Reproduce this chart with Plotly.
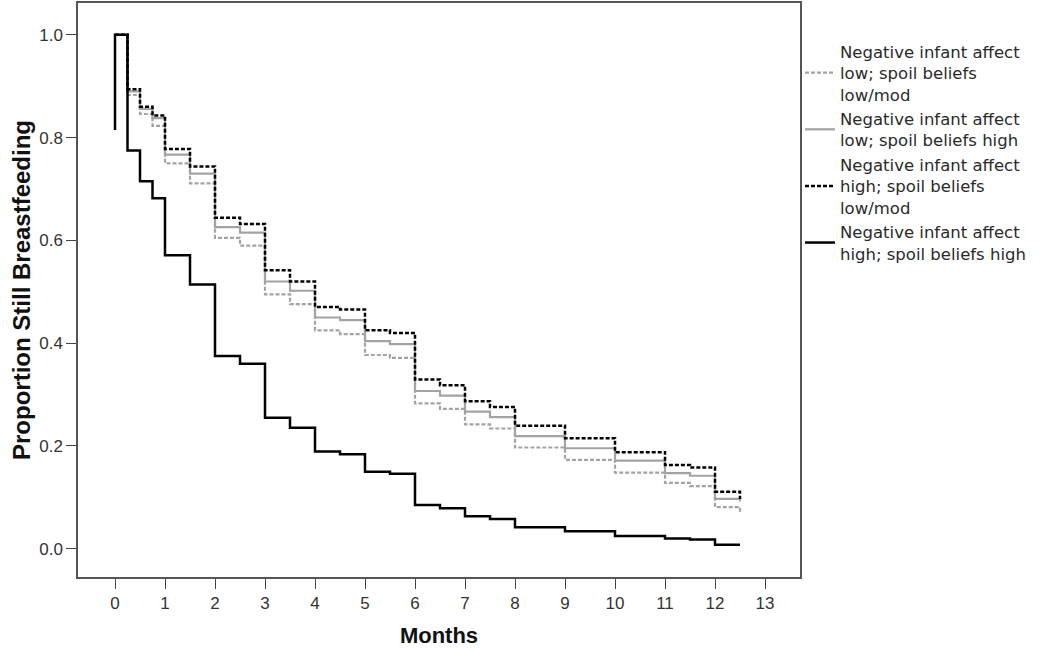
import plotly.graph_objects as go

# Time points (months) at which each step begins
months = [0, 0.25, 0.5, 0.75, 1, 1.5, 2, 2.5, 3, 3.5, 4, 4.5, 5, 5.5, 6, 6.5, 7, 7.5, 8, 9, 10, 11, 11.5, 12, 12.5]
months_hh = [0] + months

low_lowmod = [1.0, 0.883, 0.846, 0.823, 0.750, 0.711, 0.605, 0.590, 0.495, 0.476, 0.425, 0.4175, 0.377, 0.3715,
              0.283, 0.272, 0.242, 0.234, 0.197, 0.173, 0.148, 0.128, 0.122, 0.081, 0.071]
low_high = [1.0, 0.890, 0.856, 0.838, 0.767, 0.730, 0.626, 0.615, 0.520, 0.502, 0.450, 0.445, 0.404, 0.398,
            0.307, 0.298, 0.267, 0.256, 0.219, 0.1955, 0.1715, 0.147, 0.142, 0.097, 0.092]
high_lowmod = [1.0, 0.894, 0.860, 0.843, 0.778, 0.744, 0.644, 0.632, 0.542, 0.520, 0.4705, 0.4654, 0.425, 0.420,
               0.3295, 0.318, 0.287, 0.276, 0.2395, 0.215, 0.188, 0.163, 0.158, 0.111, 0.097]
high_high = [0.815, 1.0, 0.775, 0.715, 0.682, 0.571, 0.514, 0.375, 0.360, 0.255, 0.2356, 0.189, 0.184, 0.150, 0.146,
             0.085, 0.079, 0.063, 0.058, 0.042, 0.034, 0.025, 0.020, 0.018, 0.008, 0.008]

names = [
    "Negative infant affect<br>low; spoil beliefs<br>low/mod",
    "Negative infant affect<br>low; spoil beliefs high",
    "Negative infant affect<br>high; spoil beliefs<br>low/mod",
    "Negative infant affect<br>high; spoil beliefs high",
]

x_ticks = list(range(0, 14))
y_ticks = [0.0, 0.2, 0.4, 0.6, 0.8, 1.0]
y_tick_text = ["0.0", "0.2", "0.4", "0.6", "0.8", "1.0"]

fig = go.Figure()
fig.add_trace(go.Scatter(x=months, y=low_lowmod, name=names[0], mode="lines", line_shape="hv",
                         line=dict(color="#a3a3a3", width=2.2, dash="4px,2px")))
fig.add_trace(go.Scatter(x=months, y=low_high, name=names[1], mode="lines", line_shape="hv",
                         line=dict(color="#a3a3a3", width=2.2)))
fig.add_trace(go.Scatter(x=months, y=high_lowmod, name=names[2], mode="lines", line_shape="hv",
                         line=dict(color="#000000", width=2.5, dash="4px,2px")))
fig.add_trace(go.Scatter(x=months_hh, y=high_high, name=names[3], mode="lines", line_shape="hv",
                         line=dict(color="#000000", width=2.5)))

fig.update_layout(
    width=1050, height=651,
    margin=dict(l=78, r=250, t=3, b=74),
    paper_bgcolor="white", plot_bgcolor="white",
    font=dict(family="Arial, Liberation Sans, sans-serif", color="#333333"),
    legend=dict(x=1.0, xanchor="left", y=0.946, yanchor="top",
                font=dict(size=16.5, color="#2a2a2a", family="DejaVu Sans, sans-serif"),
                bgcolor="rgba(0,0,0,0)", tracegroupgap=0, itemwidth=30),
    showlegend=True,
)
fig.update_xaxes(
    range=[-0.74, 13.7], tickvals=x_ticks, ticks="outside", ticklen=10, tickcolor="#444444",
    showgrid=False, zeroline=False, showline=True, mirror=True, linecolor="#555555", linewidth=1.5,
    tickfont=dict(size=17, color="#333333"), automargin=False,
    title=dict(text="<b>Months</b>", font=dict(size=22, color="#111111"), standoff=15),
)
fig.update_yaxes(
    range=[-0.055, 1.062], tickvals=y_ticks, ticktext=y_tick_text, ticks="outside", ticklen=10,
    tickcolor="#444444",
    showgrid=False, zeroline=False, showline=True, mirror=True, linecolor="#555555", linewidth=1.5,
    tickfont=dict(size=17, color="#333333"), automargin=False,
    title=dict(text="<b>Proportion Still Breastfeeding</b>", font=dict(size=24, color="#111111"), standoff=2),
)

fig.write_html("out.html", config={"displayModeBar": False},
               post_script="document.body.style.margin='0px';")
